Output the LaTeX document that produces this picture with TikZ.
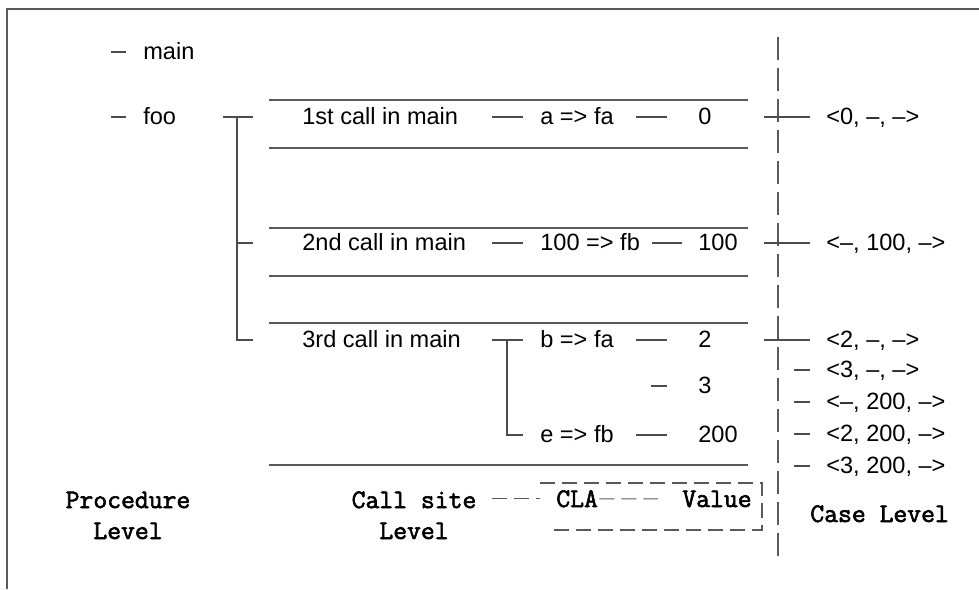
\documentclass[tikz,border=0pt]{standalone}
\usepackage{fontspec}
\setmainfont{Liberation Sans}
\newfontfamily\levelfont{Latin Modern Mono}[FakeBold=2.2]
\usepackage{tikz}
\usetikzlibrary{
  positioning,
  calc
}
\tikzset{
  lbl/.style         = {anchor=west, inner sep=0pt, text height=0.9em, text depth=0pt,
                        font=\fontsize{13.4}{16}\selectfont},
  lvl/.style         = {inner sep=0pt, align=center,
                        font=\fontsize{15.3}{17.6}\selectfont\levelfont},
  rule/.style        = {line width = 0.6pt, black!65},
  link/.style 2 args = {line width = 0.6pt, black!70, shorten <=#1, shorten >=#2},
  cut/.style         = {line width = 0.6pt, black!65, dash pattern=on 0.3cm off 0.14cm},
  casecut/.style     = {line width = 0.6pt, black!65, dash pattern=on 0.46cm off 0.16cm}
}

\begin{document}
\begin{tikzpicture}
  \useasboundingbox (0,0) rectangle (19.58,-11.78);

  % Frame
  \draw [rule] (0.14,-11.78) -- (0.14,-0.18) -- (19.58,-0.18);

  % Procedure level
  \node [lbl] (main) at ( 2.86, -1.04) {main};
  \node [lbl] (foo)  at ( 2.86, -2.34) {foo};

  % Call site level
  \foreach \y in {-2.00, -2.96, -4.56, -5.52, -6.46, -9.30}
    \draw [rule] (5.38, \y) -- (14.96, \y);
  \node [lbl] (call1) at ( 6.04, -2.34) {1st call in main};
  \node [lbl] (call2) at ( 6.04, -4.86) {2nd call in main};
  \node [lbl] (call3) at ( 6.04, -6.80) {3rd call in main};

  % CLA and value columns
  \node [lbl] (afa)   at (10.80, -2.34) {a => fa};
  \node [lbl] (fb100) at (10.80, -4.86) {100 => fb};
  \node [lbl] (bfa)   at (10.80, -6.80) {b => fa};
  \node [lbl] (efb)   at (10.80, -8.70) {e => fb};

  \node [lbl] (v0)   at (13.96, -2.34) {0};
  \node [lbl] (v100) at (13.96, -4.86) {100};
  \node [lbl] (v2)   at (13.96, -6.80) {2};
  \node [lbl] (v3)   at (13.96, -7.72) {3};
  \node [lbl] (v200) at (13.96, -8.70) {200};

  % Case level
  \node [lbl] (c1) at (16.52, -2.34) {<0, --, -->};
  \node [lbl] (c2) at (16.52, -4.86) {<--, 100, -->};
  \node [lbl] (c3) at (16.52, -6.80) {<2, --, -->};
  \node [lbl] (c4) at (16.52, -7.40) {<3, --, -->};
  \node [lbl] (c5) at (16.52, -8.04) {<--, 200, -->};
  \node [lbl] (c6) at (16.52, -8.68) {<2, 200, -->};
  \node [lbl] (c7) at (16.52, -9.32) {<3, 200, -->};

  \coordinate (casetop) at (15.56,  -0.74);
  \coordinate (casebot) at (15.56, -11.20);
  \draw [casecut] (casetop) -- (casebot);

  % Level captions
  \node [lvl, anchor=base] (proclvl)  at ( 2.56, -10.78) {Procedure\\Level};
  \node [lvl, anchor=base] (callsite) at ( 8.28, -10.78) {Call site\\Level};
  \node [lvl, anchor=base west] (cla)   at (11.12, -10.14) {CLA};
  \node [lvl, anchor=base west] (value) at (13.64, -10.14) {Value};
  \node [lvl, anchor=base west] (caselvl) at (16.20, -10.44) {Case Level};

  % Tree links
  \draw [link={0cm}{0.34cm}] ([xshift=-0.64cm]main.west) -- (main.west);
  \draw [link={0cm}{0.34cm}] ([xshift=-0.64cm]foo.west) -- (foo.west);

  \coordinate (jf) at ( 4.74, -2.34);
  \draw [link={0.94cm}{0.98cm}] (foo) -- (call1);
  \draw [link={0cm}{0.98cm}] (jf) |- (call2.west);
  \draw [link={0cm}{0.98cm}] (jf) |- (call3.west);

  \draw [link={0.68cm}{0.34cm}] (call1) -- (afa);
  \draw [link={0.52cm}{0.34cm}] (call2) -- (fb100);
  \draw [link={0.62cm}{0.34cm}] (call3) -- (bfa);
  \coordinate (jt) at (10.14, -6.80);
  \draw [link={0cm}{0.34cm}] (jt) |- (efb.west);

  \draw [link={0.44cm}{0.62cm}] (afa)   -- (v0);
  \draw [link={0.24cm}{0.32cm}] (fb100) -- (v100);
  \draw [link={0.44cm}{0.62cm}] (bfa)   -- (v2);
  \draw [link={0.44cm}{0.62cm}] (efb)   -- (v200);
  \draw [link={0cm}{0.62cm}] ([xshift=-0.94cm]v3.west) -- (v3.west);

  \draw [link={1.04cm}{0.32cm}] (v0)   -- (c1);
  \draw [link={0.52cm}{0.32cm}] (v100) -- (c2);
  \draw [link={1.04cm}{0.32cm}] (v2)   -- (c3);
  \foreach \c in {c4, c5, c6, c7}
    \draw [link={0cm}{0.32cm}] ([xshift=-0.64cm]\c.west) -- (\c.west);

  % Legend links
  \draw [cut, shorten <=0.3cm, shorten >=0.32cm] (callsite.east |- cla) -- (cla.west);
  \draw [cut, shorten <=0.02cm, shorten >=0.48cm] (cla) -- (value);
  \draw [cut] (10.80, -9.66) -| (15.24, -10.60) -- (10.96, -10.60);
\end{tikzpicture}
\end{document}
